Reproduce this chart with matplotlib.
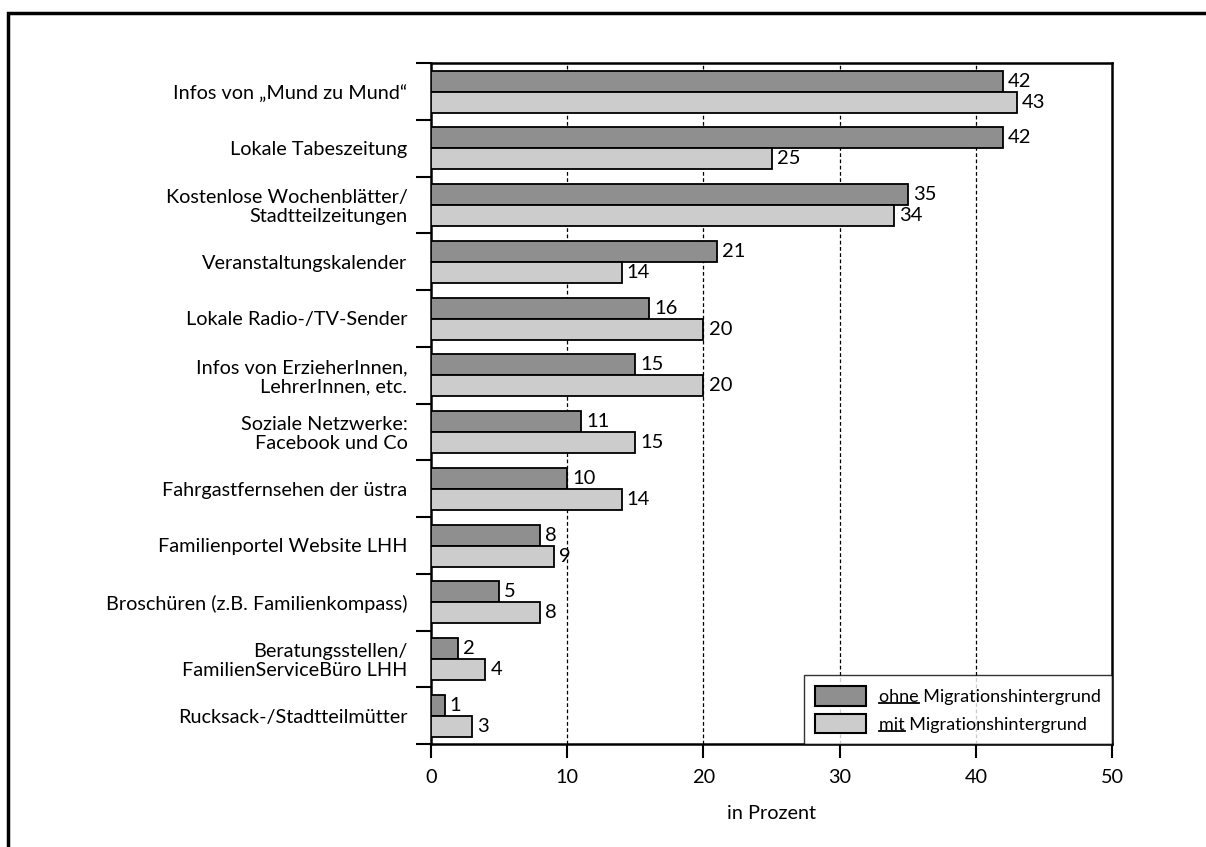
import matplotlib
matplotlib.use("Agg")
import matplotlib.pyplot as plt
from matplotlib.patches import Rectangle
from matplotlib.lines import Line2D
import numpy as np

plt.rcParams['font.family'] = ['Lato', 'DejaVu Sans']

categories = [
    "Infos von \u201eMund zu Mund\u201c",
    "Lokale Tabeszeitung",
    "Kostenlose Wochenbl\u00e4tter/\nStadtteilzeitungen",
    "Veranstaltungskalender",
    "Lokale Radio-/TV-Sender",
    "Infos von ErzieherInnen,\nLehrerInnen, etc.",
    "Soziale Netzwerke:\nFacebook und Co",
    "Fahrgastfernsehen der \u00fcstra",
    "Familienportel Website LHH",
    "Brosch\u00fcren (z.B. Familienkompass)",
    "Beratungsstellen/\nFamilienServiceB\u00fcro LHH",
    "Rucksack-/Stadtteilm\u00fctter",
]
ohne = [42, 42, 35, 21, 16, 15, 11, 10, 8, 5, 2, 1]
mit = [43, 25, 34, 14, 20, 20, 15, 14, 9, 8, 4, 3]
series_labels = ["ohne Migrationshintergrund", "mit Migrationshintergrund"]
xticks = [0, 10, 20, 30, 40, 50]

W, H = 1206, 847
fig = plt.figure(figsize=(W / 100, H / 100), dpi=100)
ax = fig.add_axes([431 / W, 1 - 744 / H, (1112 - 431) / W, (744 - 63) / H])

y = np.arange(len(categories))
bh = 0.37
b1 = ax.barh(y - bh / 2 + 0.003, ohne, height=bh, color="#8f8f8f", edgecolor="black", linewidth=1.3, zorder=3, label=series_labels[0])
b2 = ax.barh(y + bh / 2 + 0.003, mit, height=bh, color="#cccccc", edgecolor="black", linewidth=1.3, zorder=3, label=series_labels[1])

for bars, vals in ((b1, ohne), (b2, mit)):
    for rect, v in zip(bars, vals):
        ax.text(v + 0.38, rect.get_y() + rect.get_height() / 2, str(v), va="center", ha="left", fontsize=14.5, zorder=4)

ax.set_xlim(0, 50)
ax.set_ylim(len(categories) - 0.5, -0.5)
ax.set_xticks(xticks)
ax.set_xticklabels([str(t) for t in xticks], fontsize=14.3)
ax.tick_params(axis="x", direction="out", length=10, width=1.5, pad=8)

ax.set_yticks(np.arange(len(categories) + 1) - 0.5)
ax.set_yticklabels([])
ax.set_yticks(y, minor=True)
ax.set_yticklabels(categories, minor=True, fontsize=14.3, linespacing=1.1)
ax.tick_params(axis="y", which="major", direction="out", length=11, width=1.5)
ax.tick_params(axis="y", which="minor", length=0, pad=17)

for gx in [10, 20, 30, 40]:
    ax.axvline(gx, color="black", linestyle=(0, (3, 2)), linewidth=0.9, zorder=1)

for s in ax.spines.values():
    s.set_linewidth(1.8)

ax.set_xlabel("in Prozent", fontsize=14.3, labelpad=14)

leg = ax.legend(loc="lower right", bbox_to_anchor=(1, 0), borderaxespad=0, frameon=True, fancybox=False,
                edgecolor="black", fontsize=13, handlelength=2.83, handleheight=1.28, handletextpad=0.72,
                borderpad=0.6, labelspacing=0.45)
leg.get_frame().set_linewidth(1.0)
leg.set_zorder(5)
for h in leg.legend_handles:
    h.set_linewidth(1.5)

# outer border (only top/left visible, clipped at image edges)
fig.patches.append(Rectangle((8 / W, -0.1), 1.2, 1 - 13 / H + 0.1, transform=fig.transFigure,
                             fill=False, edgecolor="black", linewidth=2.5))

# underline first word of legend entries
fig.canvas.draw()
r = fig.canvas.get_renderer()
for t in leg.get_texts():
    word = t.get_text().split(" ")[0]
    bb = t.get_window_extent(r)
    tmp = fig.text(0, 0, word, fontproperties=t.get_fontproperties())
    wb = tmp.get_window_extent(r)
    tmp.remove()
    yline = bb.y0 + 2
    fig.add_artist(Line2D([bb.x0 / W, (bb.x0 + wb.width) / W], [yline / H, yline / H],
                          transform=fig.transFigure, color="black", linewidth=1.3, zorder=10))

fig.savefig("out.png", dpi=100)
